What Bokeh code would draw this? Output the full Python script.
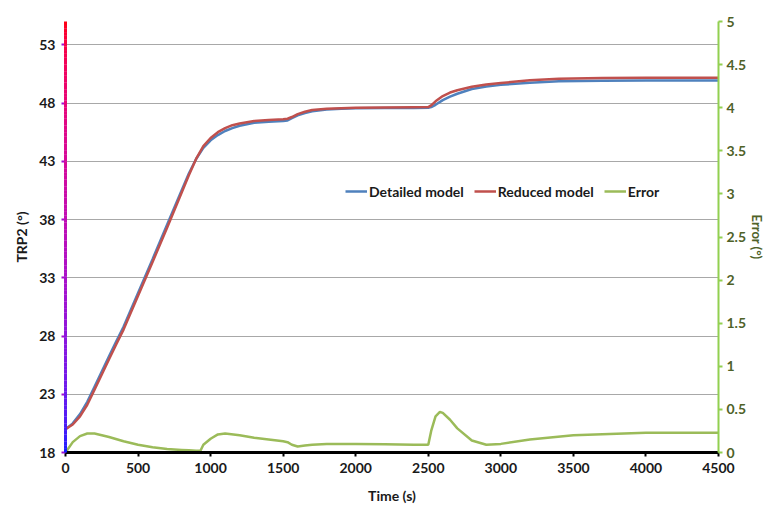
from bokeh.plotting import figure
from bokeh.models import (Range1d, LinearAxis, FixedTicker, CustomJSTickFormatter,
                          Legend, LegendItem)
from bokeh.embed import file_html
from bokeh.resources import INLINE

# ---------------- data ----------------
time_s = [0, 50, 100, 150, 200, 250, 300, 350, 400, 500, 600, 700, 800, 850, 900, 950,
          1000, 1050, 1100, 1150, 1200, 1300, 1400, 1500, 1530, 1560, 1600, 1650, 1700,
          1800, 1900, 2000, 2200, 2400, 2500, 2520, 2550, 2600, 2650, 2700, 2800,
          2900, 3000, 3200, 3400, 3700, 4000, 4500]
detailed = [20.0, 20.5, 21.3, 22.35, 23.65, 24.95, 26.25, 27.55, 28.8, 31.7, 34.6, 37.55,
            40.5, 41.95, 43.2, 44.15, 44.8, 45.25, 45.6, 45.85, 46.05, 46.3, 46.4, 46.45,
            46.5, 46.7, 46.95, 47.15, 47.3, 47.45, 47.5, 47.55, 47.57, 47.58, 47.6,
            47.65, 47.85, 48.25, 48.55, 48.8, 49.2, 49.42, 49.56, 49.75, 49.87, 49.92,
            49.94, 49.94]
reduced = [20.0, 20.4, 21.1, 22.1, 23.4, 24.7, 26.0, 27.3, 28.55, 31.45, 34.35, 37.3,
           40.3, 41.8, 43.2, 44.3, 45.0, 45.5, 45.85, 46.1, 46.25, 46.45, 46.55, 46.6,
           46.65, 46.8, 47.05, 47.25, 47.4, 47.5, 47.55, 47.6, 47.62, 47.64, 47.65,
           47.8, 48.15, 48.6, 48.9, 49.1, 49.4, 49.6, 49.72, 49.95, 50.08, 50.15,
           50.17, 50.18]

err_time = [0, 50, 100, 150, 200, 250, 300, 400, 500, 600, 700, 800, 850, 900, 930,
            950, 1000, 1050, 1100, 1200, 1300, 1400, 1500, 1530, 1560, 1600, 1650,
            1700, 1800, 2000, 2200, 2400, 2500, 2520, 2550, 2580, 2600, 2650, 2700,
            2800, 2900, 3000, 3200, 3500, 4000, 4500]
error = [0.0, 0.12, 0.19, 0.22, 0.22, 0.20, 0.18, 0.13, 0.09, 0.06, 0.04, 0.03, 0.025,
         0.02, 0.02, 0.09, 0.16, 0.21, 0.22, 0.20, 0.17, 0.15, 0.13, 0.12, 0.09, 0.07,
         0.08, 0.09, 0.10, 0.10, 0.095, 0.09, 0.09, 0.25, 0.42, 0.47, 0.46, 0.38, 0.28,
         0.14, 0.09, 0.10, 0.15, 0.20, 0.23, 0.23]

left_ticks = [18, 23, 28, 33, 38, 43, 48, 53]
right_ticks = [0, 0.5, 1, 1.5, 2, 2.5, 3, 3.5, 4, 4.5, 5]
x_ticks = [0, 500, 1000, 1500, 2000, 2500, 3000, 3500, 4000, 4500]

Y_MIN, Y_MAX = 18, 55
E_MIN, E_MAX = 0, 5
X_MIN, X_MAX = 0, 4500

FONT = "Lato"
FS = "14px"
TXT = "#1a1a1a"
OLIVE = "#4f6228"

p = figure(width=769, height=507, output_backend="svg", toolbar_location=None,
           x_range=Range1d(X_MIN, X_MAX), y_range=Range1d(Y_MIN, Y_MAX),
           min_border_left=65, min_border_right=51, min_border_top=21,
           min_border_bottom=55)
p.outline_line_color = None
p.background_fill_color = "white"
p.border_fill_color = "white"
p.extra_y_ranges = {"err": Range1d(E_MIN, E_MAX)}

# grid
p.xgrid.visible = False
p.ygrid.ticker = FixedTicker(ticks=left_ticks)
p.ygrid.grid_line_color = "#a8a8a8"
p.ygrid.grid_line_width = 1

# x axis
xa = p.xaxis[0]
xa.ticker = FixedTicker(ticks=x_ticks)
xa.axis_label = "Time (s)"
xa.axis_line_color = "black"
xa.axis_line_width = 3
xa.major_tick_line_color = "black"
xa.major_tick_line_width = 2
xa.major_tick_in = 0
xa.major_tick_out = 4
xa.minor_tick_line_color = None
xa.major_label_text_font = FONT
xa.major_label_text_font_style = "bold"
xa.major_label_text_font_size = FS
xa.major_label_text_color = TXT
xa.axis_label_text_font = FONT
xa.axis_label_text_font_style = "bold"
xa.axis_label_text_font_size = FS
xa.axis_label_text_color = TXT
xa.axis_label_standoff = 11
xa.major_label_standoff = 6

# left axis
ya = p.yaxis[0]
ya.ticker = FixedTicker(ticks=left_ticks)
ya.axis_label = "TRP2 (°)"
ya.axis_line_color = None
ya.major_tick_line_color = "#a010d0"
ya.major_tick_line_width = 2
ya.major_tick_in = 0
ya.major_tick_out = 4
ya.minor_tick_line_color = None
ya.major_label_text_font = FONT
ya.major_label_text_font_style = "bold"
ya.major_label_text_font_size = FS
ya.major_label_text_color = TXT
ya.axis_label_text_font = FONT
ya.axis_label_text_font_style = "bold"
ya.axis_label_text_font_size = FS
ya.axis_label_text_color = TXT
ya.axis_label_standoff = 6
ya.major_label_standoff = 6

# right axis
ra = LinearAxis(y_range_name="err", ticker=FixedTicker(ticks=right_ticks),
                formatter=CustomJSTickFormatter(code="return tick.toString();"),
                axis_label="Error (°)")
ra.axis_line_color = "#92d050"
ra.axis_line_width = 2
ra.major_tick_line_color = "#92d050"
ra.major_tick_line_width = 2
ra.major_tick_in = 0
ra.major_tick_out = 4
ra.minor_tick_line_color = None
ra.major_label_text_font = FONT
ra.major_label_text_font_style = "bold"
ra.major_label_text_font_size = FS
ra.major_label_text_color = OLIVE
ra.axis_label_text_font = FONT
ra.axis_label_text_font_style = "bold"
ra.axis_label_text_font_size = "13px"
ra.axis_label_text_color = OLIVE
ra.axis_label_standoff = 0
ra.major_label_standoff = 4
p.add_layout(ra, "right")

# gradient left axis line (blue at bottom -> red at top through purple)
n = 120
ys0, ys1, cols = [], [], []
for i in range(n):
    a = Y_MIN + (Y_MAX - Y_MIN) * i / n
    b = Y_MIN + (Y_MAX - Y_MIN) * (i + 1.05) / n
    f = (i + 0.5) / n
    rr = int(255 * f ** 0.45)
    bb = int(255 * (1 - f) ** 0.45)
    gg = int(30 * (1 - f))
    ys0.append(a); ys1.append(min(b, Y_MAX))
    cols.append("#%02x%02x%02x" % (rr, gg, bb))
p.segment(x0=[X_MIN] * n, x1=[X_MIN] * n, y0=ys0, y1=ys1, line_color=cols,
          line_width=3, level="overlay")

# data lines
r_err = p.line(err_time, error, y_range_name="err", line_color="#9bbb59", line_width=2.5)
r_det = p.line(time_s, detailed, line_color="#4f81bd", line_width=2.5)
r_red = p.line(time_s, reduced, line_color="#c0504d", line_width=2.5)

legend = Legend(items=[LegendItem(label="Detailed model", renderers=[r_det]),
                       LegendItem(label="Reduced model", renderers=[r_red]),
                       LegendItem(label="Error", renderers=[r_err])],
                orientation="horizontal", location=(280, 251))
legend.background_fill_alpha = 0
legend.border_line_color = None
legend.label_text_font = FONT
legend.label_text_font_style = "bold"
legend.label_text_font_size = FS
legend.label_text_color = TXT
legend.glyph_width = 22
legend.label_standoff = 2
legend.spacing = 10
legend.padding = 0
legend.margin = 0
p.add_layout(legend, "center")

open("out.html", "w").write(file_html(p, INLINE))
